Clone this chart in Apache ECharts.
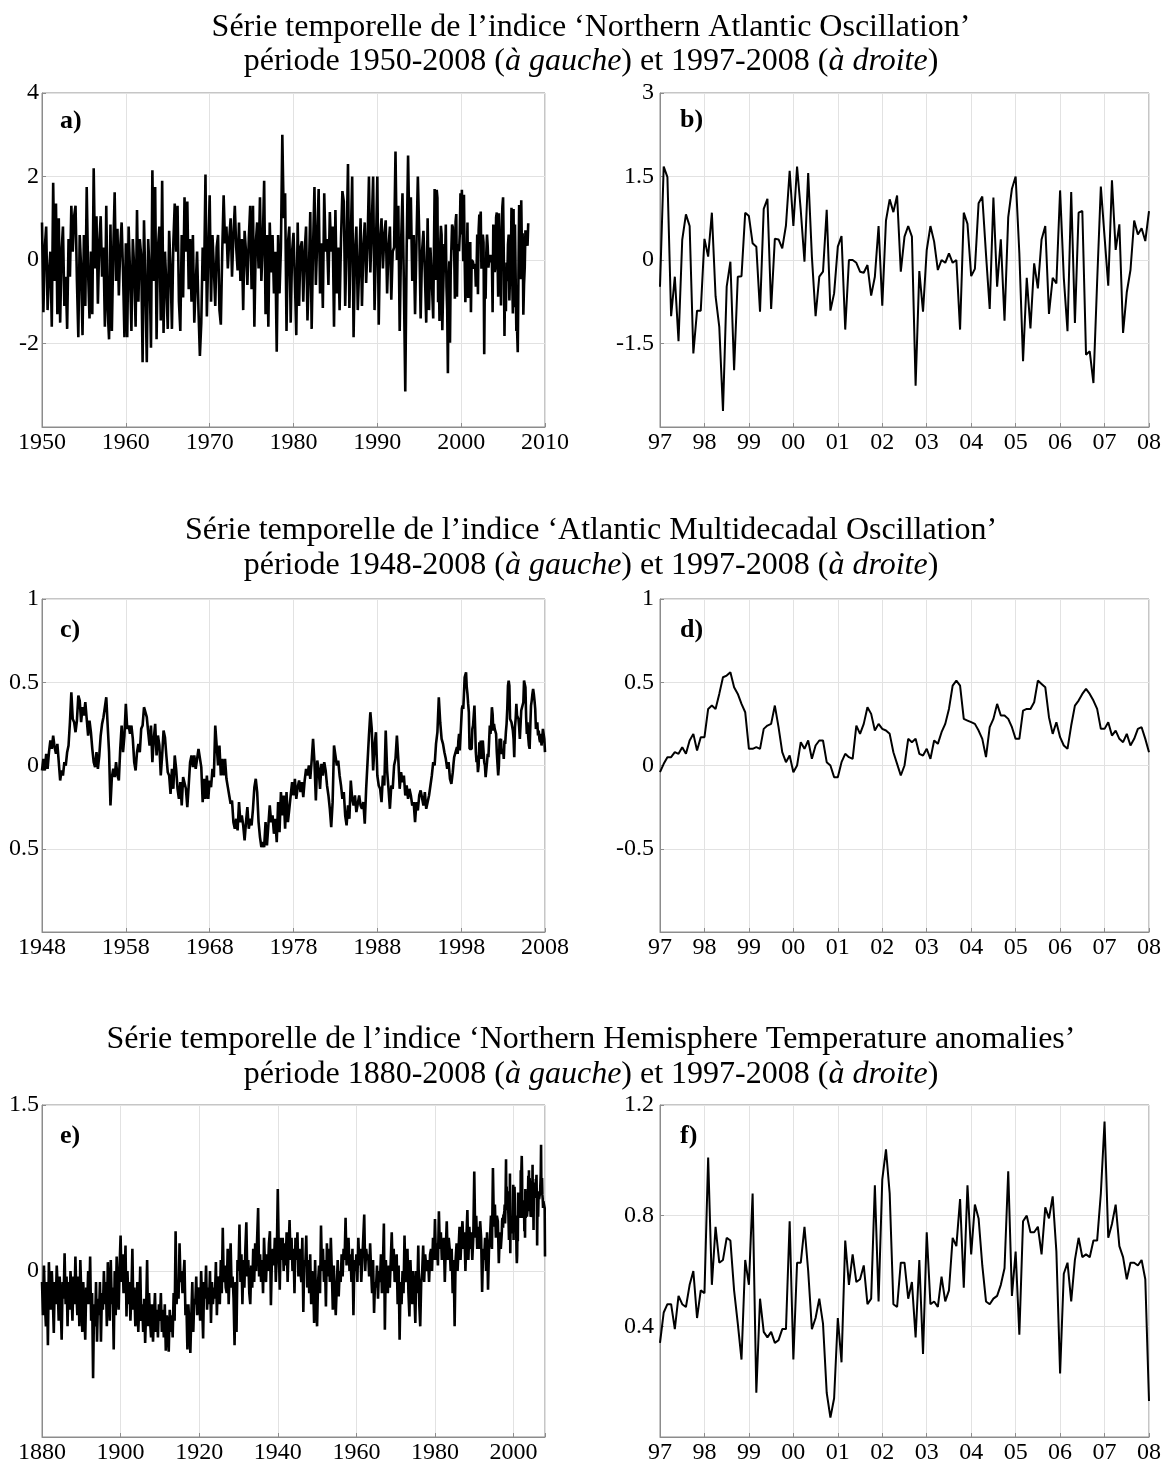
<!DOCTYPE html>
<html><head><meta charset="utf-8">
<script src="https://cdn.jsdelivr.net/npm/echarts@6/dist/echarts.min.js"></script>
<style>html,body{margin:0;padding:0;background:#fff}#c{width:1165px;height:1465px}</style>
</head><body><div id="c"></div><script>
// NAO 1950-1996, 6 values per year
const naoHist = [
0.9,-1.25,0.3,0.8,-1.2,-0.3, 0.2,-1.6,1.85,-0.5,1.35,-1.3, 1.0,-1.5,0.2,0.8,-1.1,-0.4, -1.65,0.5,-0.4,1.3,0.2,1.05,
1.3,-0.5,-1.85,0.6,-0.2,-1.8, 0.6,-1.1,1.75,-0.3,-1.4,0.2, -1.3,2.2,-0.2,1.05,-1.05,0.4, 1.05,-0.4,0.3,-1.6,1.3,-1.2,
-1.9,0.85,-1.7,0.2,1.62,-0.5, 0.75,-0.85,0.3,0.9,-0.3,-1.85, 0.4,-1.85,0.8,-0.3,-1.7,0.5, -0.2,-1.6,1.2,-1.0,0.5,0.1,
-2.45,0.95,-0.6,-2.45,0.5,-0.3, -2.1,2.15,-0.5,1.75,-1.9,0.3, 0.8,-1.45,1.9,-1.75,0.2,-0.6, -1.65,0.7,-0.2,-1.65,0.4,1.35,
0.2,1.3,-1.0,-1.7,0.6,-0.9, 1.5,0.2,1.4,-0.7,0.5,-1.0, 0.6,-1.5,-0.6,0.2,-1.2,-2.3, -1.5,0.3,-0.5,2.05,-1.35,0.1,
1.55,-1.0,0.6,-0.2,-1.1,0.3, 0.6,-1.2,-1.55,0.2,1.55,0.4, 0.8,-0.2,0.5,1.0,-0.4,0.6, 1.3,0.3,-0.25,0.9,-0.5,0.5,
-1.2,0.7,0.2,-0.6,0.5,1.3, -0.7,1.3,-1.6,0.4,0.9,-0.2, 1.5,-0.5,0.4,1.9,-1.3,0.6, -1.6,0.9,-0.3,0.6,-0.8,0.2,
-2.2,0.6,-0.8,0.3,3.0,1.0, 1.6,-1.7,0.4,0.8,-1.5,0.2, 0.65,-0.5,-1.8,0.9,-1.1,0.3, 0.45,-1.0,0.2,0.8,-1.45,-0.3,
1.15,-1.65,0.3,1.75,-0.6,0.5, 1.7,-0.8,0.4,-1.15,1.6,0.2, 0.5,-0.6,1.15,0.2,0.8,-1.6, 1.2,-0.8,0.3,-1.2,0.5,1.65,
1.4,-1.1,0.4,2.3,-1.15,0.5, 2.0,-1.85,0.2,0.8,-1.2,-0.2, 1.0,-1.1,0.3,0.9,-0.55,0.4, 2.0,-0.3,0.8,2.0,-1.2,0.3,
2.0,-1.55,0.5,1.0,-0.2,0.6, 0.95,-0.8,0.3,0.8,-0.95,0.2, 0.3,2.6,0.0,1.3,-1.7,0.4, 1.6,-0.6,-3.15,0.3,2.5,0.5,
1.5,-0.5,0.6,-1.3,0.4,2.0, 0.6,-1.4,0.2,0.7,-0.3,-1.5, 1.0,-1.2,0.3,-0.5,-1.4,1.7
];
// NAO monthly 1997-01 .. 2008-01 (panel b)
const naoRecent = [
-0.48,1.68,1.49,-1.01,-0.3,-1.46,0.36,0.82,0.61,-1.68,-0.91,-0.91,
0.38,0.06,0.85,-0.65,-1.2,-2.71,-0.48,-0.03,-1.98,-0.3,-0.29,0.85,
0.79,0.3,0.24,-0.93,0.92,1.1,-0.88,0.38,0.37,0.21,0.62,1.6,
0.61,1.68,0.89,-0.03,1.56,0.06,-1.01,-0.3,-0.21,0.9,-0.91,-0.6,
0.24,0.43,-1.25,0,0,-0.05,-0.21,-0.23,-0.09,-0.64,-0.3,0.61,
-0.82,0.71,1.09,0.86,1.16,-0.21,0.42,0.61,0.42,-2.26,-0.2,-0.93,
0.18,0.61,0.33,-0.18,0,-0.05,0.12,-0.05,0,-1.25,0.85,0.65,
-0.29,-0.16,1.02,1.14,0.1,-0.88,1.12,-0.48,0.37,-1.09,0.77,1.28,
1.5,0.12,-1.82,-0.32,-1.23,-0.06,-0.51,0.37,0.61,-0.97,-0.32,-0.42,
1.25,-0.32,-1.28,1.22,-1.13,0.85,0.88,-1.7,-1.64,-2.21,-0.39,1.32,
0.42,-0.46,1.43,0.18,0.64,-1.31,-0.58,-0.18,0.71,0.46,0.57,0.34,
0.88
];
// AMO 1948-1996, 6 values per year (panel c)
const amoHist = [
-0.03,0.04,-0.03,0.07,-0.02,0.08, 0.15,0.1,0.18,0.11,0.07,0.13, 0.12,-0.09,-0.03,-0.06,0.02,0, 0.08,0.12,0.26,0.44,0.28,0.26,
0.2,0.27,0.42,0.39,0.26,0.35, 0.3,0.38,0.28,0.18,0.27,0.2, 0.1,0.02,-0.01,0.08,-0.02,0.06, 0.18,0.25,0.29,0.35,0.41,0.24,
0.08,-0.24,-0.07,-0.02,-0.07,0.02, -0.06,-0.09,0.1,0.24,0.08,0.18, 0.37,0.22,0.24,0.19,0.24,0.16, 0.02,-0.03,0.08,0.13,0.08,0.22,
0.24,0.35,0.36,0.29,0.2,0.12, 0.24,0.02,0.16,0.25,0.06,0.18, 0.12,-0.06,0.06,0.21,0.17,0.06, -0.04,-0.06,-0.17,-0.02,-0.14,0.06,
-0.02,-0.14,-0.2,-0.1,-0.24,-0.07, -0.07,-0.14,-0.25,-0.12,0.02,0.06, -0.01,0.06,-0.02,0.04,0.1,0.11, -0.01,-0.22,-0.08,-0.2,-0.06,-0.2,
-0.09,-0.13,-0.02,-0.07,0.24,0.12, 0,0.12,-0.06,0.04,-0.06,0.04, -0.08,-0.13,-0.18,-0.23,-0.21,-0.34, -0.38,-0.32,-0.39,-0.22,-0.34,-0.3,
-0.36,-0.45,-0.34,-0.25,-0.38,-0.32, -0.36,-0.26,-0.13,-0.08,-0.16,-0.34, -0.43,-0.49,-0.46,-0.49,-0.34,-0.48, -0.36,-0.24,-0.34,-0.3,-0.41,-0.32,
-0.46,-0.22,-0.4,-0.16,-0.3,-0.18, -0.38,-0.16,-0.34,-0.26,-0.18,-0.1, -0.18,-0.08,-0.2,-0.13,-0.09,-0.16, -0.1,-0.19,-0.09,-0.02,-0.06,0,
-0.08,0.03,0.16,0.02,-0.21,0.03, -0.02,-0.14,0.01,-0.06,0.02,-0.03, -0.12,-0.18,-0.26,-0.37,-0.22,0.12, 0.06,0,0.03,-0.06,-0.12,-0.2,
-0.16,-0.3,-0.36,-0.24,-0.32,-0.09, -0.2,-0.24,-0.18,-0.28,-0.23,-0.18, -0.24,-0.26,-0.22,-0.35,-0.14,0.02, 0.18,0.32,0.22,-0.03,0.12,0.2,
-0.06,-0.12,-0.14,-0.22,-0.06,-0.12, 0.21,-0.03,-0.14,-0.26,-0.12,-0.14, 0,0.04,0.18,0.04,-0.14,-0.04, -0.1,-0.06,-0.18,-0.12,-0.2,-0.14,
-0.18,-0.24,-0.22,-0.34,-0.22,-0.27, -0.18,-0.15,-0.14,-0.24,-0.16,-0.26, -0.26,-0.18,-0.17,-0.06,0.02,0, 0.13,0.2,0.41,0.26,0.16,0.13,
0.08,0.04,-0.02,0.02,-0.08,-0.11
];
// AMO monthly 1997-01 .. 2008-01 (panel d)
const amoRecent = [
-0.04,0.01,0.05,0.05,0.08,0.07,0.11,0.07,0.15,0.19,0.09,0.17,
0.17,0.34,0.36,0.34,0.43,0.53,0.54,0.56,0.47,0.43,0.37,0.32,
0.1,0.1,0.11,0.1,0.22,0.24,0.25,0.36,0.23,0.08,0.02,0.06,
-0.04,0,0.14,0.1,0.15,0.04,0.12,0.15,0.15,0.02,0,-0.07,
-0.07,0.02,0.07,0.05,0.04,0.24,0.19,0.25,0.35,0.31,0.21,0.25,
0.22,0.21,0.19,0.08,0.01,-0.06,0,0.16,0.14,0.16,0.07,0.06,
0.1,0.04,0.15,0.13,0.2,0.25,0.34,0.48,0.51,0.48,0.28,0.27,
0.26,0.25,0.21,0.16,0.05,0.23,0.28,0.37,0.3,0.3,0.28,0.23,
0.16,0.16,0.33,0.34,0.34,0.38,0.51,0.49,0.47,0.29,0.19,0.26,
0.17,0.12,0.1,0.24,0.36,0.39,0.43,0.46,0.43,0.39,0.34,0.22,
0.22,0.26,0.18,0.21,0.16,0.14,0.19,0.12,0.16,0.22,0.23,0.16,
0.08
];
// NH temperature anomalies 1880-1996, 4 values per year (panel e)
const nhtHist = [
-0.1,-0.4,0.05,-0.3, -0.5,-0.1,-0.67,0.08, -0.2,-0.35,0.0,-0.25, -0.56,-0.1,-0.3,0.05, -0.15,-0.45,-0.05,-0.3,
-0.62,-0.1,-0.25,0.16, -0.3,-0.05,-0.5,-0.1, -0.35,0.0,-0.2,-0.45, -0.05,-0.3,0.13,-0.2, -0.4,-0.05,-0.5,0.1,
-0.2,-0.55,-0.1,-0.35, -0.62,-0.15,-0.3,0.0, -0.3,0.13,-0.45,-0.2, -0.97,-0.3,-0.5,-0.1, -0.64,-0.25,-0.4,-0.1,
-0.64,-0.2,-0.35,0.0, -0.3,-0.1,-0.5,0.08, -0.2,-0.45,0.1,-0.3, -0.15,-0.71,0.0,-0.4, 0.13,-0.2,-0.35,0.05,
0.32,-0.1,0.15,-0.2, -0.05,0.23,-0.41,0.0, -0.3,-0.1,-0.45,-0.2, 0.2,-0.35,-0.15,-0.5, -0.4,-0.1,-0.55,-0.3,
0.04,-0.45,-0.3,-0.55, -0.25,-0.65,-0.35,0.1, -0.5,-0.2,-0.45,-0.6, -0.3,-0.64,-0.4,-0.2, -0.55,-0.35,-0.6,-0.3,
-0.45,-0.2,-0.55,-0.35, -0.6,-0.3,-0.72,-0.4, -0.5,-0.73,-0.35,-0.55, -0.4,-0.6,-0.2,-0.45, 0.36,-0.3,-0.1,-0.25,
0.25,-0.1,0.0,-0.2, -0.2,0.1,-0.4,-0.3, -0.71,-0.3,-0.5,-0.74, -0.4,-0.1,-0.55,-0.25, -0.3,-0.05,-0.4,-0.15,
-0.2,-0.45,0.0,-0.3, -0.61,-0.1,-0.25,0.05, -0.35,-0.15,-0.3,0.0, -0.47,-0.1,-0.3,-0.15, -0.25,0.08,-0.4,-0.1,
-0.05,-0.3,0.1,-0.2, 0.39,-0.1,0.05,-0.15, -0.2,0.2,-0.3,0.0, 0.25,-0.15,-0.05,-0.25, -0.67,-0.1,-0.55,0.1,
0.0,0.42,-0.1,0.15, -0.3,0.1,-0.15,0.2, 0.44,-0.05,0.1,-0.2, -0.3,0.05,-0.15,0.2, -0.1,0.25,0.0,0.3,
0.57,-0.05,0.15,-0.1, 0.1,-0.2,0.3,0.05, -0.1,0.15,0.0,0.25, 0.36,-0.31,0.1,0.2, 0.05,0.3,-0.1,0.15,
0.74,0.2,-0.17,0.3, 0.1,0.3,0.0,0.25, 0.05,0.35,-0.1,0.2, 0.46,0.1,0.3,0.0, 0.2,-0.2,0.3,0.1,
0.35,-0.05,0.2,0.0, -0.1,0.3,-0.37,0.1, 0.05,0.32,-0.15,0.1, -0.2,0.15,-0.3,0.0, -0.1,-0.47,0.1,-0.3,
-0.5,-0.1,0.05,-0.2, 0.41,0.0,0.2,-0.1, 0.1,-0.32,0.25,-0.05, 0.2,-0.1,0.3,0.0, -0.35,0.05,-0.2,-0.4,
-0.15,0.1,-0.23,0.0, -0.1,0.15,-0.05,0.2, 0.1,0.48,0.05,0.25, 0.3,0.0,0.15,-0.1, 0.2,-0.4,0.1,0.0,
0.15,-0.1,0.3,0.05, 0.2,-0.1,0.1,0.3, 0.51,0.0,0.2,0.1, 0.15,-0.05,0.25,0.0, -0.2,0.1,-0.38,-0.1,
-0.15,0.05,-0.25,0.0, -0.1,0.15,-0.2,0.05, 0.43,-0.53,0.1,-0.1, -0.2,0.05,-0.15,0.1, 0.35,0.0,0.2,-0.1,
-0.1,0.15,-0.3,0.05, -0.62,-0.1,-0.3,0.0, -0.2,0.32,-0.1,0.05, 0.2,-0.2,-0.41,0.1, -0.15,-0.3,0.0,-0.2,
-0.47,0.0,-0.2,0.23, -0.3,-0.5,-0.1,0.0, 0.23,-0.1,0.15,0.05, 0.0,0.1,-0.1,0.15, 0.2,0.0,0.3,0.1,
0.47,0.1,0.25,0.05, 0.54,0.2,0.35,0.1, 0.1,0.3,-0.1,0.2, 0.45,0.1,0.3,0.2, 0.0,0.2,-0.2,0.1,
-0.5,0.1,0.25,0.0, 0.2,0.4,0.1,0.3, 0.45,0.2,0.35,0.0, 0.3,0.55,0.1,0.4, 0.2,0.35,0.1,0.3,
0.9,0.3,0.5,0.2, 0.4,0.2,0.45,0.3, -0.19,0.2,0.1,0.3, 0.0,0.35,-0.17,0.2, 0.3,0.5,0.2,0.93,
0.4,0.6,0.3,0.5, 0.45,0.07,0.35,0.2
];
// NH temperature anomalies monthly 1997-01 .. 2008-01 (panel f)
const nhtRecent = [
0.34,0.45,0.48,0.48,0.39,0.51,0.48,0.47,0.55,0.6,0.43,0.53,
0.52,1.01,0.55,0.76,0.63,0.64,0.72,0.71,0.53,0.41,0.28,0.64,
0.55,0.88,0.16,0.5,0.38,0.36,0.38,0.34,0.35,0.39,0.39,0.78,
0.28,0.63,0.63,0.76,0.6,0.39,0.43,0.5,0.41,0.16,0.07,0.14,
0.43,0.27,0.71,0.55,0.66,0.56,0.57,0.62,0.48,0.5,0.91,0.49,
0.93,1.04,0.88,0.48,0.47,0.63,0.63,0.5,0.56,0.36,0.64,0.3,
0.74,0.48,0.49,0.47,0.58,0.49,0.53,0.72,0.69,0.86,0.54,0.91,
0.66,0.84,0.79,0.62,0.49,0.48,0.5,0.51,0.55,0.61,0.96,0.51,
0.67,0.37,0.78,0.8,0.74,0.74,0.76,0.66,0.83,0.79,0.87,0.67,
0.23,0.59,0.63,0.49,0.64,0.72,0.65,0.66,0.65,0.71,0.71,0.88,
1.14,0.72,0.77,0.84,0.69,0.65,0.57,0.63,0.63,0.62,0.64,0.57,
0.13
];
const titles = [
  ['Série temporelle de l’indice ‘Northern Atlantic Oscillation’', '1950-2008'],
  ['Série temporelle de l’indice ‘Atlantic Multidecadal Oscillation’', '1948-2008'],
  ['Série temporelle de l’indice ‘Northern Hemisphere Temperature anomalies’', '1880-2008']
];
const panelLabels = ['a)', 'b)', 'c)', 'd)', 'e)', 'f)'];

const FONT = '"Liberation Serif","Times New Roman",serif';
function histPts(hist, start, perYear, recent) {
  const pts = hist.map((v, i) => [start + i / perYear, v]);
  recent.forEach((v, i) => pts.push([1997 + i / 12, v]));
  return pts;
}
function recentPts(recent) { return recent.map((v, i) => [1997 + i / 12, v]); }

const grids = [
  {left: 42, top: 93, width: 503, height: 334},
  {left: 660, top: 93, width: 489, height: 334},
  {left: 42, top: 599, width: 503, height: 333},
  {left: 660, top: 599, width: 489, height: 333},
  {left: 42, top: 1105, width: 503, height: 335},
  {left: 660, top: 1105, width: 489, height: 336}
].map(g => Object.assign(g, {show: true, borderColor: '#8c8c8c', borderWidth: 1, backgroundColor: '#fff'}));

const axisCommon = {
  axisLine: {show: true, onZero: false, lineStyle: {color: '#8c8c8c', width: 1}},
  axisTick: {show: true, inside: true, length: 4, lineStyle: {color: '#8c8c8c'}},
  splitLine: {show: true, lineStyle: {color: '#e2e2e2', width: 1}}
};
const two = v => String(Math.round(v) % 100).padStart(2, '0');
const xDefs = [
  {min: 1950, max: 2010, interval: 10, f: v => String(Math.round(v))},
  {min: 1997, max: 2008, interval: 1, f: two},
  {min: 1948, max: 2008, interval: 10, f: v => String(Math.round(v))},
  {min: 1997, max: 2008, interval: 1, f: two},
  {min: 1880, max: 2008, interval: 20, f: v => ((Math.round(v) - 1880) % 20 === 0 ? String(Math.round(v)) : '')},
  {min: 1997, max: 2008, interval: 1, f: two}
];
const r2 = v => Number(v.toFixed(2));
const yDefs = [
  {min: -4, max: 4, interval: 2, f: v => (r2(v) === -4 ? '' : String(r2(v))), m: 3},
  {min: -3, max: 3, interval: 1.5, f: v => (r2(v) === -3 ? '' : String(r2(v))), m: 6},
  {min: -1, max: 1, interval: 0.5, f: v => (r2(v) === -1 ? '' : (r2(v) === -0.5 ? '0.5' : String(r2(v)))), m: 3},
  {min: -1, max: 1, interval: 0.5, f: v => (r2(v) === -1 ? '' : String(r2(v))), m: 6},
  {min: -1.5, max: 1.5, interval: 1.5, f: v => (r2(v) === -1.5 ? '' : String(r2(v))), m: 3},
  {min: 0, max: 1.2, interval: 0.4, f: v => (r2(v) === 0 ? '' : String(r2(v))), m: 6}
];
const xAxis = xDefs.map((d, i) => Object.assign({}, axisCommon, {
  type: 'value', gridIndex: i, min: d.min, max: d.max, interval: d.interval,
  axisLabel: {fontFamily: FONT, fontSize: 24, color: '#000', margin: 4, formatter: d.f, showMaxLabel: true, showMinLabel: true}
}));
const yAxis = yDefs.map((d, i) => Object.assign({}, axisCommon, {
  type: 'value', gridIndex: i, min: d.min, max: d.max, interval: d.interval,
  axisLabel: {fontFamily: FONT, fontSize: 24, color: '#000', margin: d.m, formatter: d.f}
}));
const seriesData = [
  histPts(naoHist, 1950, 6, naoRecent), recentPts(naoRecent),
  histPts(amoHist, 1948, 6, amoRecent), recentPts(amoRecent),
  histPts(nhtHist, 1880, 4, nhtRecent), recentPts(nhtRecent)
];
const series = seriesData.map((d, i) => ({
  type: 'line', xAxisIndex: i, yAxisIndex: i, data: d, showSymbol: false, symbol: 'none',
  lineStyle: {color: '#000', width: i % 2 === 0 ? 2.6 : 2}, animation: false, silent: true
}));

const titleY = [[28, 62], [531, 566], [1040, 1075]];
const graphic = [];
titles.forEach((t, k) => {
  graphic.push({type: 'text', x: 591, y: titleY[k][0], style: {
    text: t[0], font: '32px ' + FONT, fill: '#000', textAlign: 'center', textVerticalAlign: 'middle'}});
  graphic.push({type: 'text', x: 591, y: titleY[k][1], style: {
    text: 'période ' + t[1] + ' ({i|à gauche}) et 1997-2008 ({i|à droite})',
    font: '32px ' + FONT, fill: '#000', textAlign: 'center', textVerticalAlign: 'middle',
    rich: {i: {fontStyle: 'italic', fontSize: 32, fontFamily: FONT, fill: '#000'}}}});
});
const labelPos = [[60, 121], [680, 120], [60, 630], [680, 630], [60, 1136], [680, 1136]];
panelLabels.forEach((t, i) => graphic.push({type: 'text', x: labelPos[i][0], y: labelPos[i][1], style: {
  text: t, font: 'bold 26px ' + FONT, fill: '#000', textAlign: 'left', textVerticalAlign: 'middle'}}));

const chart = echarts.init(document.getElementById('c'), null, {renderer: 'canvas'});
chart.setOption({animation: false, backgroundColor: '#fff', grid: grids, xAxis, yAxis, series, graphic});
</script></body></html>
